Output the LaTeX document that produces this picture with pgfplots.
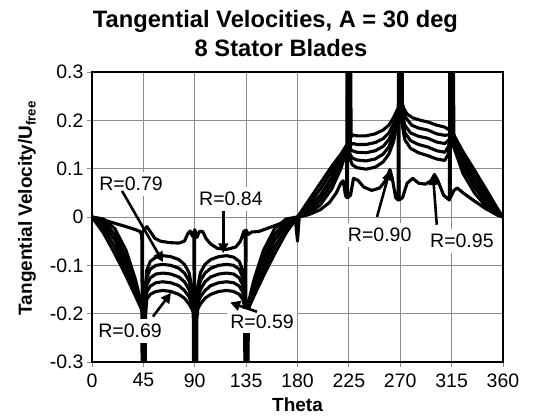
\documentclass[border=0pt]{standalone}
\usepackage{fontspec}
\setmainfont{Liberation Sans}
\usepackage{pgfplots}
\pgfplotsset{compat=1.18}
\usetikzlibrary{arrows.meta}

\tikzset{
  curve/.style={black, line width=3.1pt, line join=round, line cap=round},
  rlab/.style={fill=white, inner xsep=3pt, inner ysep=5pt, font=\fontsize{19.5}{21}\selectfont},
  rarr/.style={black, line width=2.6pt, -{Triangle[length=10pt,width=10pt]}},
}

\begin{document}
\begin{tikzpicture}
\path[use as bounding box] (-92pt,-54pt) rectangle (441pt,362pt);
\begin{axis}[
  name=ax, at={(0,0)}, anchor=south west,
  scale only axis, width=411pt, height=290pt,
  xmin=0, xmax=360, ymin=-0.3, ymax=0.3,
  xtick={0,45,90,135,180,225,270,315,360},
  ytick={-0.3,-0.2,-0.1,0,0.1,0.2,0.3},
  yticklabels={-0.3,-0.2,-0.1,0,0.1,0.2,0.3},
  xtick pos=bottom, ytick pos=left,
  tick align=outside, major tick length=5pt,
  tick style={black!45, line width=0.8pt},
  grid=major, major grid style={black!45, line width=0.8pt},
  axis line style={draw=none},
  /pgf/number format/assume math mode=true,
  ticklabel style={font=\fontsize{19.5}{21}\selectfont},
  xticklabel style={yshift=-3pt},
  clip=true,
]
% R = 0.95
\addplot[curve] coordinates {
 (0,0) (10,-0.006) (20,-0.013) (30,-0.02) (38,-0.026) (42,-0.03) (43.6,-0.038)
 (44.0,-0.2) (44.4,-0.03) (46,-0.026) (48,-0.02) (51,-0.03) (55,-0.044) (60,-0.05)
 (68,-0.053) (76,-0.054) (81,-0.05) (84,-0.034) (86,-0.029) (88,-0.04) (89.2,-0.03)
 (89.6,-0.2) (90.0,-0.026) (92,-0.042) (94,-0.03) (97,-0.03) (100,-0.045)
 (104,-0.056) (110,-0.065) (118,-0.067) (126,-0.062) (130,-0.05) (133,-0.03)
 (134.2,-0.028) (134.6,-0.2) (135.0,-0.027) (137,-0.036) (140,-0.031) (146,-0.03)
 (152,-0.025) (160,-0.018) (170,-0.009) (178,-0.002) (180,-0.05) (181.5,0)
 (190,0.005) (200,0.015) (208,0.03) (214,0.05) (218,0.07) (220,0.075) (222,0.045)
 (223.1,0.04) (223.5,0.45) (223.9,0.04) (226.5,0.045) (229,0.08) (233,0.076)
 (238,0.062) (245,0.055) (252,0.06) (257,0.075) (261,0.098) (263,0.08) (266,0.04)
 (268.1,0.035) (268.5,0.45) (268.9,0.035) (272,0.04) (276,0.07) (281,0.08)
 (286,0.07) (292,0.068) (297,0.075) (300,0.088) (303,0.075) (308,0.045)
 (313.1,0.035) (313.5,0.45) (313.9,0.04) (317,0.055) (320,0.06) (325,0.05)
 (335,0.033) (345,0.017) (355,0.004) (360,0)
};
% R = 0.90
\addplot[curve] coordinates {
 (0,0) (10,-0.004) (20,-0.024) (30,-0.07) (38,-0.129) (42,-0.167) (43.7,-0.19)
 (44.1,-0.45) (44.5,-0.19) (46.5,-0.15) (48,-0.11) (51,-0.092) (56,-0.083)
 (62,-0.08) (69,-0.082) (76,-0.088) (81,-0.098) (85,-0.115) (87.5,-0.145)
 (88.7,-0.19) (89.1,-0.45) (89.5,-0.19) (92.5,-0.145) (95,-0.115) (99,-0.098)
 (104,-0.088) (111,-0.082) (118,-0.08) (124,-0.083) (129,-0.092) (132,-0.11)
 (133.5,-0.15) (133.7,-0.19) (134.1,-0.45) (134.5,-0.19) (138,-0.167)
 (142,-0.129) (150,-0.07) (160,-0.024) (170,-0.004) (180,0)
 (190,0.008) (200,0.025) (210,0.058) (218,0.1) (222,0.13) (223.7,0.15)
 (224.1,0.45) (224.5,0.15) (226,0.12) (228,0.108) (232,0.102) (240,0.099)
 (248,0.103) (255,0.114) (260,0.13) (264,0.155) (267,0.19) (268.7,0.225)
 (269.1,0.45) (269.5,0.225) (271,0.2) (274,0.16) (279,0.142) (286,0.133)
 (294,0.127) (302,0.12) (309,0.117) (312,0.13) (313.7,0.16) (314.1,0.45)
 (314.5,0.16) (316,0.15) (325,0.09) (335,0.05) (345,0.022) (355,0.005) (360,0)
};
% R = 0.84
\addplot[curve] coordinates {
 (0,0) (10,-0.0085) (20,-0.036) (30,-0.085) (38,-0.14) (42,-0.173) (44.3,-0.195)
 (44.7,-0.45) (45.1,-0.195) (46.5,-0.16) (48,-0.125) (51,-0.108) (56,-0.1)
 (62,-0.098) (69,-0.1) (76,-0.106) (81,-0.116) (85,-0.132) (87.5,-0.158)
 (89.3,-0.2) (89.7,-0.45) (90.1,-0.2) (92.5,-0.158) (95,-0.132) (99,-0.116)
 (104,-0.106) (111,-0.1) (118,-0.098) (124,-0.1) (129,-0.108) (132,-0.125)
 (133.5,-0.16) (134.3,-0.195) (134.7,-0.45) (135.1,-0.195) (138,-0.173)
 (142,-0.14) (150,-0.085) (160,-0.036) (170,-0.0085) (180,0)
 (190,0.012) (200,0.035) (210,0.07) (218,0.11) (222,0.135) (224.3,0.152)
 (224.7,0.45) (225.1,0.152) (226,0.13) (228,0.122) (232,0.118) (240,0.116)
 (248,0.12) (255,0.13) (260,0.145) (264,0.168) (267,0.2) (269.3,0.228)
 (269.7,0.45) (270.1,0.228) (271,0.21) (274,0.175) (279,0.158) (286,0.15)
 (294,0.145) (302,0.137) (309,0.134) (312,0.145) (314.3,0.165) (314.7,0.45)
 (315.1,0.165) (316,0.155) (325,0.103) (335,0.062) (345,0.03) (355,0.008) (360,0)
};
% R = 0.79
\addplot[curve] coordinates {
 (0,0) (10,-0.014) (20,-0.048) (30,-0.098) (38,-0.149) (42,-0.177) (44.9,-0.198)
 (45.3,-0.45) (45.7,-0.198) (46.5,-0.17) (48,-0.14) (51,-0.126) (56,-0.118)
 (62,-0.116) (69,-0.118) (76,-0.124) (81,-0.134) (85,-0.15) (87.5,-0.17)
 (89.9,-0.2) (90.3,-0.45) (90.7,-0.2) (92.5,-0.17) (95,-0.15) (99,-0.134)
 (104,-0.124) (111,-0.118) (118,-0.116) (124,-0.118) (129,-0.126) (132,-0.14)
 (133.5,-0.17) (134.9,-0.198) (135.3,-0.45) (135.7,-0.198) (138,-0.177)
 (142,-0.149) (150,-0.098) (160,-0.048) (170,-0.014) (180,0)
 (190,0.018) (200,0.045) (210,0.082) (218,0.118) (222,0.14) (224.9,0.155)
 (225.3,0.45) (225.7,0.155) (226.5,0.14) (228,0.137) (232,0.134) (240,0.133)
 (248,0.137) (255,0.146) (260,0.16) (264,0.18) (267,0.205) (269.9,0.23)
 (270.3,0.45) (270.7,0.23) (271.5,0.218) (274,0.19) (279,0.174) (286,0.167)
 (294,0.163) (302,0.155) (309,0.152) (312,0.158) (314.9,0.168) (315.3,0.45)
 (315.7,0.168) (316.5,0.16) (325,0.115) (335,0.073) (345,0.039) (355,0.011) (360,0)
};
% R = 0.69
\addplot[curve] coordinates {
 (0,0) (10,-0.023) (20,-0.062) (30,-0.111) (38,-0.156) (42,-0.181) (45.5,-0.2)
 (45.9,-0.45) (46.3,-0.2) (46.8,-0.18) (48,-0.155) (51,-0.143) (56,-0.136)
 (62,-0.134) (69,-0.136) (76,-0.142) (81,-0.152) (85,-0.165) (87.5,-0.18)
 (90.5,-0.205) (90.9,-0.45) (91.3,-0.205) (92.5,-0.18) (95,-0.165) (99,-0.152)
 (104,-0.142) (111,-0.136) (118,-0.134) (124,-0.136) (129,-0.143) (132,-0.155)
 (133.5,-0.18) (135.5,-0.2) (135.9,-0.45) (136.3,-0.2) (138,-0.181)
 (142,-0.156) (150,-0.111) (160,-0.062) (170,-0.023) (180,0)
 (190,0.025) (200,0.058) (210,0.094) (218,0.125) (222,0.142) (225.5,0.157)
 (225.9,0.45) (226.3,0.157) (227,0.15) (229,0.152) (232,0.15) (240,0.15)
 (248,0.154) (255,0.162) (260,0.174) (264,0.192) (267,0.21) (270.5,0.232)
 (270.9,0.45) (271.3,0.232) (272,0.225) (275,0.205) (280,0.19) (286,0.184)
 (294,0.18) (302,0.172) (309,0.169) (312,0.17) (315.5,0.17) (315.9,0.45)
 (316.3,0.17) (317,0.165) (325,0.125) (335,0.085) (345,0.048) (355,0.014) (360,0)
};
% R = 0.59
\addplot[curve] coordinates {
 (0,0) (10,-0.033) (20,-0.076) (30,-0.123) (38,-0.163) (42,-0.184) (46.1,-0.205)
 (46.5,-0.45) (46.9,-0.205) (48,-0.17) (51,-0.16) (56,-0.154) (62,-0.152)
 (69,-0.154) (76,-0.16) (81,-0.168) (85,-0.18) (87.5,-0.19) (91.1,-0.21)
 (91.5,-0.45) (91.9,-0.21) (92.7,-0.19) (95,-0.18) (99,-0.168) (104,-0.16)
 (111,-0.154) (118,-0.152) (124,-0.154) (129,-0.16) (132,-0.17) (136.1,-0.205)
 (136.5,-0.45) (136.9,-0.205) (138,-0.184) (142,-0.163) (150,-0.123)
 (160,-0.076) (170,-0.033) (180,0)
 (190,0.035) (200,0.07) (210,0.105) (218,0.13) (222,0.145) (226.1,0.16)
 (226.5,0.45) (226.9,0.165) (228,0.17) (232,0.168) (240,0.168) (248,0.172)
 (255,0.18) (260,0.19) (264,0.205) (267,0.22) (271.1,0.236) (271.5,0.45)
 (271.9,0.235) (273,0.225) (276,0.213) (281,0.205) (288,0.2) (295,0.196)
 (302,0.19) (309,0.186) (313,0.18) (316.1,0.175) (316.5,0.45) (316.9,0.172)
 (318,0.165) (325,0.135) (335,0.097) (345,0.058) (355,0.018) (360,0)
};

% radius labels
\node[rlab] at (axis cs:34.2,0.068) {R=0.79};
\node[rlab] at (axis cs:121.7,0.037) {R=0.84};
\node[rlab] at (axis cs:33.3,-0.236) {R=0.69};
\node[rlab] at (axis cs:149,-0.216) {R=0.59};
\node[rlab] at (axis cs:252,-0.037) {R=0.90};
\node[rlab] at (axis cs:324,-0.05) {R=0.95};
\draw[rarr] (axis cs:26.3,0.054) -- (axis cs:62.2,-0.093);
\draw[rarr] (axis cs:115,0.013) -- (axis cs:115,-0.075);
\draw[rarr] (axis cs:53.4,-0.206) -- (axis cs:69.2,-0.157);
\draw[rarr] (axis cs:144.5,-0.196) -- (axis cs:121,-0.177);
\draw[rarr] (axis cs:249.6,0.0) -- (axis cs:261,0.097);
\draw[rarr] (axis cs:302,-0.016) -- (axis cs:298.7,0.087);
\end{axis}
\draw[line width=2.8pt] (ax.south west) rectangle (ax.north east);
\node[anchor=base west, inner sep=0pt, font=\fontsize{23.7}{27}\selectfont\bfseries] at (0.7pt,334.7pt)
  {Tangential Velocities, A = 30 deg};
\node[anchor=base, inner sep=0pt, font=\fontsize{23.7}{27}\selectfont\bfseries] at (189pt,305.3pt) {8 Stator Blades};
\node[font=\fontsize{19}{22}\selectfont\bfseries] at (205.5pt,-43pt) {Theta};
\node[rotate=90, font=\fontsize{19}{22}\selectfont\bfseries] at (-65pt,154pt) {Tangential Velocity/U\textsubscript{free}};
\end{tikzpicture}
\end{document}
